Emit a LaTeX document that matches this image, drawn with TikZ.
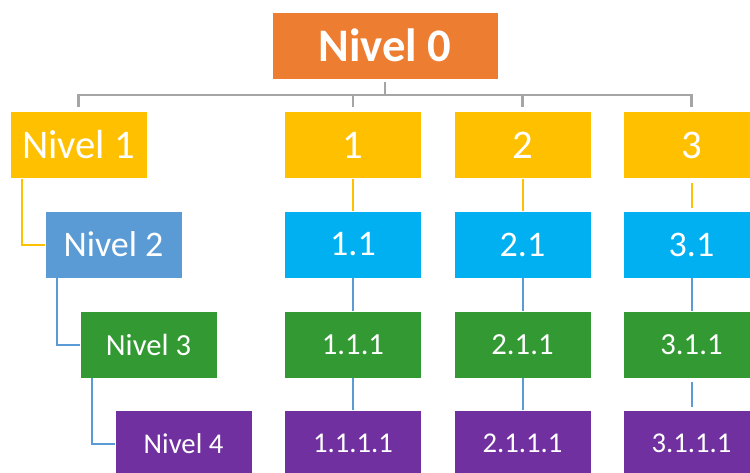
\documentclass[tikz,border=0pt]{standalone}
\usepackage{fontspec}
\setmainfont{Carlito}
\usetikzlibrary{positioning}
\definecolor{lvlzero}{HTML}{ED7D31}
\definecolor{lvlone}{HTML}{FFC000}
\definecolor{lvltwo}{HTML}{00B0F0}
\definecolor{lvltwoleft}{HTML}{5B9BD5}
\definecolor{lvlthree}{HTML}{339933}
\definecolor{lvlfour}{HTML}{7030A0}
\definecolor{bargray}{HTML}{A5A5A5}
\tikzset{
	x=0.75pt, y=-0.75pt, node distance=126.75pt,
	box/.style={draw=white, line width=0.4pt, text=white, inner sep=0pt,
		minimum width=102.75pt, minimum height=50.25pt},
	top/.style={box, fill=lvlzero, minimum width=169.5pt, font=\bfseries\fontsize{35}{40}\selectfont},
	one/.style={box, fill=lvlone, font=\fontsize{30.5}{34}\selectfont},
	two/.style={box, fill=lvltwo, font=\fontsize{27}{30}\selectfont},
	twoleft/.style={two, fill=lvltwoleft},
	three/.style={box, fill=lvlthree, font=\fontsize{23}{26}\selectfont},
	four/.style={box, fill=lvlfour, font=\fontsize{21.5}{24}\selectfont},
	bar/.style={draw=bargray, line width=2pt, shorten <=2.25pt, shorten >=3pt},
	link/.style={line width=1.5pt, shorten <=3pt, shorten >=2.25pt},
}
\begin{document}
\begin{tikzpicture}
	\useasboundingbox (0,0) rectangle (750,472);
	\node[top] (n0) at (385,45.5) {Nivel 0};
	\coordinate (rail) at (385,95);
	% left column
	\node[one] (l1) at (78.5,145) {Nivel 1};
	\node[twoleft] (l2) at (113.5,244.5) {Nivel 2};
	\node[three] (l3) at (148.5,344.5) {Nivel 3};
	\node[four] (l4) at (183.5,443.5) {Nivel 4};
	% columns
	\node[one] (c1) at (353,145) {1};
	\node[one, right of=c1, xshift=0.375pt] (c2) {2};
	\node[one, right of=c2] (c3) {3};
	\node[two] (c11) at (353,244.5) {1.1};
	\node[two, right of=c11, xshift=0.375pt] (c21) {2.1};
	\node[two, right of=c21] (c31) {3.1};
	\node[three] (c111) at (353,344.5) {1.1.1};
	\node[three, right of=c111, xshift=0.375pt] (c211) {2.1.1};
	\node[three, right of=c211] (c311) {3.1.1};
	\node[four] (c1111) at (353,443.5) {1.1.1.1};
	\node[four, right of=c1111, xshift=0.375pt] (c2111) {2.1.1.1};
	\node[four, right of=c2111] (c3111) {3.1.1.1};
	\draw[bar] (n0) -- (n0 |- rail) -| (l1);
	\draw[bar] (n0) -- (n0 |- rail) -| (c1);
	\draw[bar] (n0) -- (n0 |- rail) -| (c2);
	\draw[bar] (n0) -- (n0 |- rail) -| (c3);
	\draw[link, lvlone]
		([xshift=9pt]l1.south west) |- (l2)
		(c1) -- (c11)
		(c2) -- (c21)
		(c3) -- (c31);
	\draw[link, lvltwoleft]
		([xshift=9pt]l2.south west) |- (l3)
		([xshift=9pt]l3.south west) |- (l4)
		(c11) -- (c111)
		(c21) -- (c211)
		(c31) -- (c311)
		(c111) -- (c1111)
		(c211) -- (c2111)
		(c311) -- (c3111);
\end{tikzpicture}
\end{document}
